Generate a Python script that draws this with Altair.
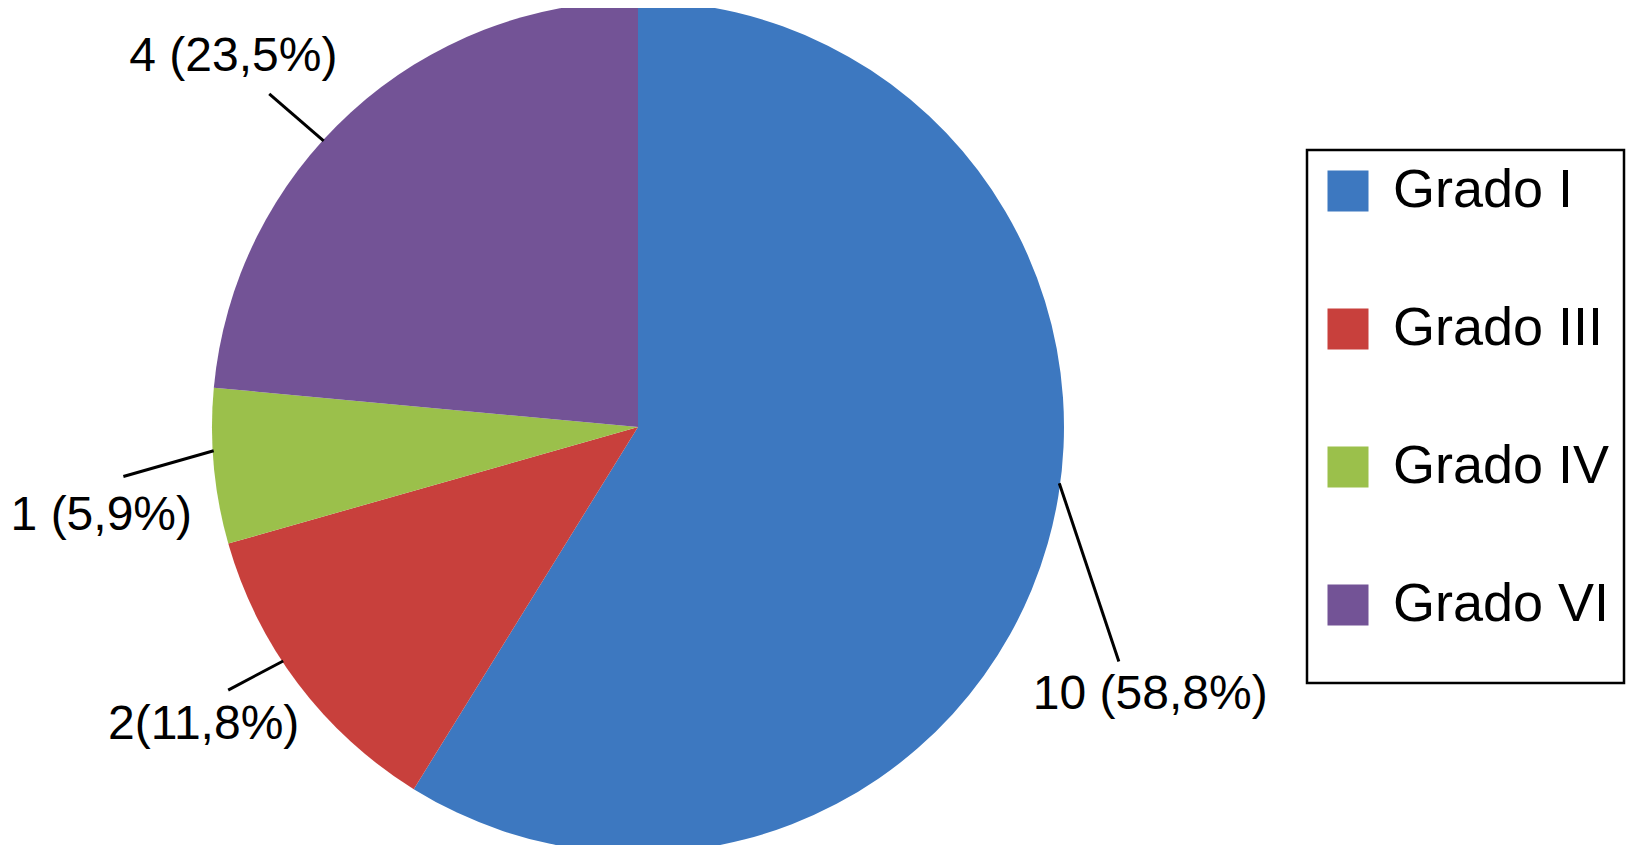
import altair as alt
import pandas as pd

# ---- data ----
categories = ["Grado I", "Grado III", "Grado IV", "Grado VI"]
counts = [10, 2, 1, 4]
label_texts = ["10 (58,8%)", "2(11,8%)", "1 (5,9%)", "4 (23,5%)"]
order_idx = [0, 1, 2, 3]

# ---- style / layout (kept apart from the data) ----
colors = ["#3D78C0", "#C8403C", "#9BC04B", "#735396"]
label_angle = [117.6, 235.5, 260.6, 312.4]      # degrees, clockwise from 12 o'clock
label_radius = [578, 527, 544, 548]
leader_angle_in = [97.6, 236.6, 266.8, 312.3]
leader_angle_out = [116.0, 237.3, 264.5, 312.1]
leader_radius_out = [535, 487, 517, 497]

CX, CY, R = 630, 419, 426
W, H = 1621, 837
FONT = "Liberation Sans"

df = pd.DataFrame({
    "cat": categories,
    "count": counts,
    "idx": order_idx,
    "label": label_texts,
    "la": label_angle,
    "lr": label_radius,
    "a1": leader_angle_in,
    "a2": leader_angle_out,
    "r2": leader_radius_out,
})

base = alt.Chart(df)

pie = base.mark_arc(outerRadius=R).encode(
    theta=alt.Theta("count:Q", stack=True),
    order=alt.Order("idx:Q"),
    color=alt.Color(
        "cat:N",
        scale=alt.Scale(domain=categories, range=colors),
        legend=alt.Legend(
            title=" ",
            titleOrient="bottom",
            titleFontSize=1,
            titlePadding=36,
            orient="none",
            legendX=1299,
            legendY=142,
            padding=14,
            strokeColor="black",
            symbolType="square",
            symbolSize=1681,
            symbolStrokeWidth=0,
            labelFontSize=54,
            labelFont=FONT,
            labelColor="black",
            labelOffset=18,
            rowPadding=84,
            labelLimit=500,
        ),
    ),
    x=alt.value(CX),
    y=alt.value(CY),
)

rules = base.transform_calculate(
    x1=f"{CX} + {R - 1} * sin(datum.a1 * PI / 180)",
    y1=f"{CY} - {R - 1} * cos(datum.a1 * PI / 180)",
    x2=f"{CX} + datum.r2 * sin(datum.a2 * PI / 180)",
    y2=f"{CY} - datum.r2 * cos(datum.a2 * PI / 180)",
).mark_rule(color="black", strokeWidth=3).encode(
    x=alt.X("x1:Q", scale=None, axis=None),
    y=alt.Y("y1:Q", scale=None, axis=None),
    x2="x2:Q",
    y2="y2:Q",
)

labels = base.transform_calculate(
    lx=f"{CX} + datum.lr * sin(datum.la * PI / 180)",
    ly=f"{CY} - datum.lr * cos(datum.la * PI / 180)",
).mark_text(
    font=FONT, fontSize=48, color="black", align="center", baseline="middle"
).encode(
    x=alt.X("lx:Q", scale=None, axis=None),
    y=alt.Y("ly:Q", scale=None, axis=None),
    text="label:N",
)

chart = (
    alt.layer(pie, rules, labels)
    .properties(
        width=W,
        height=H,
        autosize=alt.AutoSizeParams(type="none"),
        padding=0,
    )
    .configure_view(strokeWidth=0)
    .configure_legend(strokeWidth=2.5)
)

chart.save("out.html", embed_options={"renderer": "svg", "actions": False})
